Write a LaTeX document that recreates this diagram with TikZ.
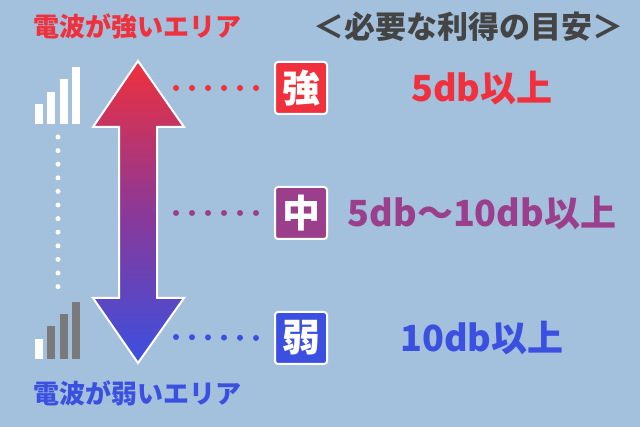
\documentclass[tikz,border=0pt]{standalone}
\usepackage{fontspec}
\newfontfamily\jp{Noto Sans CJK JP}
\definecolor{bg}{HTML}{A3C1DD}
\definecolor{cred}{HTML}{F0303C}
\definecolor{cpur}{HTML}{9B3F8C}
\definecolor{cblue}{HTML}{3B50E0}
\definecolor{cgray}{HTML}{444444}
\definecolor{bargray}{HTML}{7A7A7A}
\tikzset{
 box/.style={rounded corners=3pt, draw=white, line width=2pt, minimum size=52pt, inner sep=0pt, text=white, font=\jp\bfseries\fontsize{38}{38}\selectfont},
 val/.style={font=\jp\bfseries\fontsize{36}{36}\selectfont},
 ttl/.style={font=\jp\bfseries\fontsize{26}{26}\selectfont},
 dotl/.style={line width=6pt, line cap=round, dash pattern=on 0pt off 16pt},
 wbar/.style={fill=white},
 gbar/.style={fill=bargray}
}
\begin{document}
\begin{tikzpicture}[x=1pt,y=-1pt]
\fill[bg] (0,0) rectangle (640,427);
\node[ttl,text=cred] (t1) at (138,26) {電波が強いエリア};
\node[ttl,text=cblue] (t2) at (138,393) {電波が弱いエリア};
\node[font=\jp\bfseries\fontsize{31}{31}\selectfont,text=cgray] (hd) at (468,27) {＜必要な利得の目安＞};
\fill[wbar] (35,104) rectangle (43,124);
\fill[wbar] (47,92) rectangle (55,124);
\fill[wbar] (60,79) rectangle (68,124);
\fill[wbar] (72,67) rectangle (80,124);
\fill[wbar] (35,339) rectangle (43,359);
\fill[gbar] (47,326) rectangle (55,359);
\fill[gbar] (60,314) rectangle (68,359);
\fill[gbar] (72,302) rectangle (80,359);
\coordinate (va) at (58,137);
\coordinate (vb) at (58,300);
\draw[white,line width=5pt,line cap=round,dash pattern=on 0pt off 13.6pt] (va) -- (vb);
\path[draw=white,line width=2pt,top color=cred,bottom color=cblue,middle color=cpur!90!blue]
 (138,61) -- (184,127) -- (157,127) -- (157,298) -- (184,298) -- (138,363) -- (93,298) -- (119,298) -- (119,127) -- (93,127) -- cycle;
\node[box,fill=cred] (b1) at (301,88) {強};
\node[box,fill=cpur] (b2) at (301,213) {中};
\node[box,fill=cblue] (b3) at (301,338) {弱};
\coordinate (d1) at (176,88);
\coordinate (d2) at (176,213);
\coordinate (d3) at (176,337);
\draw[dotl,cred] (d1) -- ([xshift=-16pt]b1.west);
\draw[dotl,cpur] (d2) -- ([xshift=-16pt]b2.west);
\draw[dotl,cblue] (d3) -- ([xshift=-16pt]b3.west);
\node[val,text=cred] (v1) at (482,88) {5db以上};
\node[val,text=cpur] (v2) at (482,213) {5db〜10db以上};
\node[val,text=cblue] (v3) at (482,338) {10db以上};
\end{tikzpicture}
\end{document}
